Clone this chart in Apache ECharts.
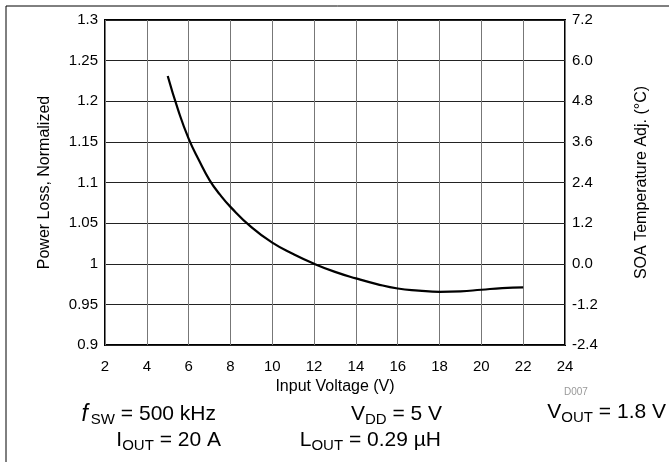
<!DOCTYPE html>
<html><head><meta charset="utf-8">
<script src="https://cdn.jsdelivr.net/npm/echarts@6/dist/echarts.min.js"></script>
<style>html,body{margin:0;padding:0;background:#fff}#c{width:669px;height:462px}</style>
</head><body><div id="c"></div>
<script>
var inputVoltage = [5, 5.5, 6, 6.5, 7, 7.5, 8, 9, 10, 11, 12, 13, 14, 15, 16, 17, 18, 19, 20, 21, 22];
var powerLoss = [1.231, 1.189, 1.154, 1.127, 1.103, 1.085, 1.070, 1.045, 1.026, 1.012, 1.000, 0.990, 0.982, 0.975, 0.9695, 0.967, 0.9655, 0.966, 0.968, 0.970, 0.971];
var xTicks = [2, 4, 6, 8, 10, 12, 14, 16, 18, 20, 22, 24];
var leftTicks = [0.9, 0.95, 1, 1.05, 1.1, 1.15, 1.2, 1.25, 1.3];
var rightTicks = [-2.4, -1.2, 0.0, 1.2, 2.4, 3.6, 4.8, 6.0, 7.2];

var FONT = 'Liberation Sans, Arial, sans-serif';
var chart = echarts.init(document.getElementById('c'), null, {renderer: 'canvas'});
var sub = {fontSize: 15, fontFamily: FONT, color: '#000', verticalAlign: 'bottom', lineHeight: 15};
var base = {fontSize: 21, fontFamily: FONT, color: '#000', lineHeight: 25};
var ital = {fontSize: 23, fontFamily: FONT, fontStyle: 'italic', color: '#000', lineHeight: 25, padding: [0, 3, 0, 0]};
function note(xRight, yTop, text) {
  return {type: 'text', x: xRight, y: yTop,
    style: {text: text, align: 'right', verticalAlign: 'top', rich: {b: base, s: sub, i: ital}}};
}
chart.setOption({
  animation: false,
  grid: {left: 105, right: 104, top: 20, bottom: 117, show: true, borderColor: '#000', borderWidth: 2, backgroundColor: 'transparent'},
  xAxis: {
    type: 'value', min: xTicks[0], max: xTicks[xTicks.length - 1], interval: 2,
    name: 'Input Voltage (V)', nameLocation: 'middle', nameGap: 32,
    nameTextStyle: {fontSize: 16, fontFamily: FONT, color: '#000'},
    axisLine: {show: false}, axisTick: {show: false},
    axisLabel: {fontSize: 15, fontFamily: FONT, color: '#000', margin: 14},
    splitLine: {show: true, lineStyle: {color: '#777', width: 1}}
  },
  yAxis: [{
    type: 'value', min: leftTicks[0], max: leftTicks[leftTicks.length - 1], interval: 0.05,
    name: 'Power Loss, Normalized', nameLocation: 'middle', nameGap: 52,
    nameTextStyle: {fontSize: 16, fontFamily: FONT, color: '#000'},
    axisLine: {show: false}, axisTick: {show: false},
    axisLabel: {fontSize: 15, fontFamily: FONT, color: '#000', margin: 7,
      formatter: function (v) { return String(Number(v.toFixed(2))); }},
    splitLine: {show: true, lineStyle: {color: '#222', width: 1}}
  }, {
    type: 'value', position: 'right', min: rightTicks[0], max: rightTicks[rightTicks.length - 1], interval: 1.2,
    name: 'SOA Temperature Adj. (°C)', nameLocation: 'middle', nameGap: 69,
    nameTextStyle: {fontSize: 16, fontFamily: FONT, color: '#000'},
    axisLine: {show: false}, axisTick: {show: false},
    axisLabel: {fontSize: 15, fontFamily: FONT, color: '#000', margin: 7,
      formatter: function (v) { if (Math.abs(v) < 1e-9) v = 0; return v.toFixed(1); }},
    splitLine: {show: false}
  }],
  series: [{
    type: 'line', yAxisIndex: 0, smooth: 0.5, showSymbol: false,
    lineStyle: {color: '#000', width: 2.2},
    data: inputVoltage.map(function (v, i) { return [v, powerLoss[i]]; })
  }],
  graphic: [
    {type: 'line', shape: {x1: 6, y1: 6, x2: 669, y2: 6}, style: {stroke: '#000', lineWidth: 1}},
    {type: 'line', shape: {x1: 6, y1: 6, x2: 6, y2: 462}, style: {stroke: '#000', lineWidth: 1}},
    {type: 'text', x: 564, y: 387, style: {text: 'D007', fontSize: 10, fontFamily: FONT, fill: '#999'}},
    note(216, 402, '{i|f}{s|SW}{b| = 500 kHz}'),
    note(442, 402, '{b|V}{s|DD}{b| = 5 V}'),
    note(666, 400, '{b|V}{s|OUT}{b| = 1.8 V}'),
    note(221, 428, '{b|I}{s|OUT}{b| = 20 A}'),
    note(441, 428, '{b|L}{s|OUT}{b| = 0.29 µH}')
  ]
});
</script></body></html>
